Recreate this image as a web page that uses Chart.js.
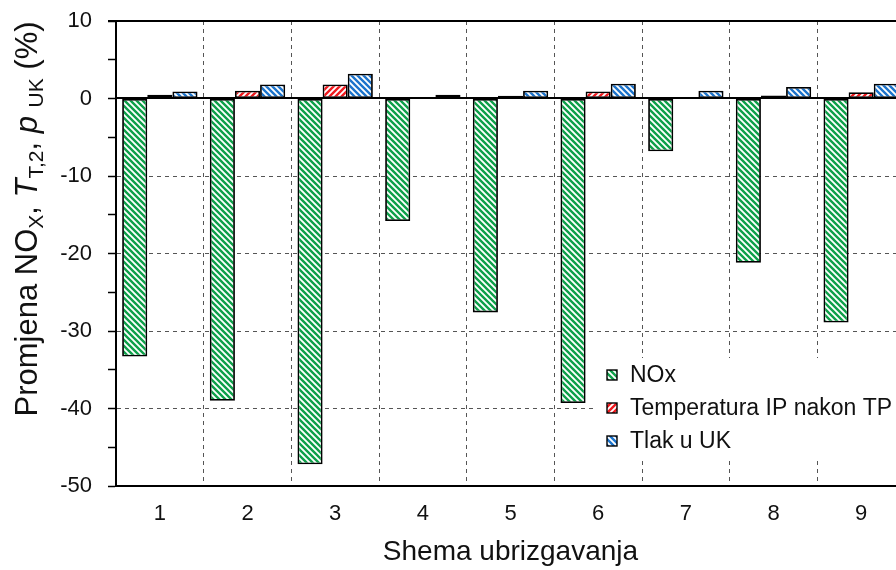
<!DOCTYPE html>
<html>
<head>
<meta charset="utf-8">
<script src="https://cdn.jsdelivr.net/npm/chart.js@4.4.1/dist/chart.umd.min.js"></script>
<style>
  html, body { margin: 0; padding: 0; overflow: hidden; background: #fff; }
  #wrap { position: relative; width: 920px; height: 570px; }
</style>
</head>
<body>
<div id="wrap"><canvas id="chart"></canvas></div>
<script>
// data
const categories = ['1', '2', '3', '4', '5', '6', '7', '8', '9'];
const noxValues = [-33.3, -39.0, -47.2, -15.8, -27.6, -39.3, -6.8, -21.2, -28.9];
const tempValues = [0.5, 1.0, 1.8, 0.1, 0.35, 0.9, 0.1, 0.4, 0.8];
const tlakValues = [0.9, 1.8, 3.2, 0.5, 1.0, 1.9, 1.0, 1.5, 1.9];
const seriesLabels = ['NOx', 'Temperatura IP nakon TP', 'Tlak u UK'];
const yMin = -50, yMax = 10;

const FONT = "'Liberation Sans', Arial, sans-serif";

// diagonal hatch fill, white background with coloured stripes
const makeHatch = (color, dir) => {
  const s = 6;
  const c = document.createElement('canvas');
  c.width = s; c.height = s;
  const g = c.getContext('2d');
  g.fillStyle = '#fff';
  g.fillRect(0, 0, s, s);
  g.strokeStyle = color;
  g.lineWidth = 2.4;
  g.beginPath();
  if (dir === '\\') {
    g.moveTo(-1, -1); g.lineTo(s + 1, s + 1);
    g.moveTo(-1, s - 1); g.lineTo(1, s + 1);
    g.moveTo(s - 1, -1); g.lineTo(s + 1, 1);
  } else {
    g.moveTo(-1, s + 1); g.lineTo(s + 1, -1);
    g.moveTo(-1, 1); g.lineTo(1, -1);
    g.moveTo(s - 1, s + 1); g.lineTo(s + 1, s - 1);
  }
  g.stroke();
  return document.getElementById('chart').getContext('2d').createPattern(c, 'repeat');
};

const greenHatch = makeHatch('#0ea04a', '\\');
const redHatch = makeHatch('#f01a1f', '/');
const blueHatch = makeHatch('#1c74cc', '\\');

// frame top line + solid zero line
const framePlugin = {
  id: 'frame',
  afterDatasetsDraw(chart) {
    const { ctx, chartArea: a, scales: { y } } = chart;
    ctx.save();
    ctx.strokeStyle = '#000';
    ctx.lineWidth = 2;
    ctx.beginPath();
    ctx.moveTo(a.left - 8, a.top);
    ctx.lineTo(a.right, a.top);
    const y0 = Math.round(y.getPixelForValue(0));
    ctx.moveTo(a.left, y0);
    ctx.lineTo(a.right, y0);
    ctx.stroke();
    ctx.restore();
  }
};

// legend box inside the plot with white background
const legendPlugin = {
  id: 'boxLegend',
  afterDraw(chart) {
    const { ctx } = chart;
    ctx.save();
    ctx.fillStyle = '#fff';
    ctx.fillRect(594, 358, 330, 100);
    chart.data.datasets.forEach((ds, i) => {
      const cy = 375 + i * 33;
      ctx.fillStyle = ds.backgroundColor;
      ctx.fillRect(607, cy - 5, 10, 10);
      ctx.strokeStyle = '#000';
      ctx.lineWidth = 1.4;
      ctx.strokeRect(607, cy - 5, 10, 10);
      ctx.fillStyle = '#111';
      ctx.font = '23px ' + FONT;
      ctx.textBaseline = 'middle';
      ctx.fillText(ds.label, 630, cy + 1);
    });
    ctx.restore();
  }
};

// rotated y-axis title with subscripts and italics
const yTitlePlugin = {
  id: 'yTitle',
  afterDraw(chart) {
    const { ctx } = chart;
    const parts = [
      ['Promjena NO', 'n'], ['X', 's'], [', ', 'n'],
      ['T', 'i'], ['T,2', 's'], [', ', 'n'],
      ['p', 'i'], [' ', 'n'], ['UK', 's'], [' (%)', 'n']
    ];
    const fontFor = (k) => k === 's' ? '21px ' + FONT : (k === 'i' ? 'italic 31px ' + FONT : '31px ' + FONT);
    ctx.save();
    let total = 0;
    parts.forEach(([t, k]) => { ctx.font = fontFor(k); total += ctx.measureText(t).width; });
    ctx.translate(37, 219);
    ctx.rotate(-Math.PI / 2);
    ctx.fillStyle = '#111';
    ctx.textBaseline = 'alphabetic';
    let x = -total / 2;
    parts.forEach(([t, k]) => {
      ctx.font = fontFor(k);
      ctx.fillText(t, x, k === 's' ? 6 : 0);
      x += ctx.measureText(t).width;
    });
    ctx.restore();
  }
};

const barCommon = {
  borderColor: '#000',
  borderWidth: 1.8,
  borderSkipped: false,
  categoryPercentage: 0.86,
  barPercentage: 1.0
};

new Chart(document.getElementById('chart'), {
  type: 'bar',
  data: {
    labels: categories,
    datasets: [
      { ...barCommon, label: seriesLabels[0], data: noxValues, backgroundColor: greenHatch },
      { ...barCommon, label: seriesLabels[1], data: tempValues, backgroundColor: redHatch },
      { ...barCommon, label: seriesLabels[2], data: tlakValues, backgroundColor: blueHatch }
    ]
  },
  options: {
    responsive: true,
    maintainAspectRatio: false,
    animation: false,
    layout: { padding: { top: 21, right: 15, left: 0, bottom: 0 } },
    plugins: {
      legend: { display: false },
      tooltip: { enabled: false }
    },
    scales: {
      x: {
        grid: {
          offset: true,
          drawTicks: false,
          color: '#555',
          lineWidth: 1
        },
        border: { display: true, color: '#000', width: 2, dash: [4, 4] },
        ticks: { color: '#111', font: { family: FONT, size: 22 }, padding: 15 },
        title: {
          display: true,
          text: 'Shema ubrizgavanja',
          color: '#111',
          font: { family: FONT, size: 28 },
          padding: { top: 2, bottom: 1 }
        },
        afterFit: (scale) => { scale.height = 84; }
      },
      y: {
        min: yMin,
        max: yMax,
        ticks: {
          stepSize: 5,
          color: '#111',
          padding: 16,
          font: { family: FONT, size: 22 },
          callback: (v) => (v % 10 === 0 ? v : '')
        },
        grid: {
          color: (c) => {
            const v = c.tick ? c.tick.value : null;
            if (v === null || v % 10 !== 0 || v === 0 || v === yMin || v === yMax) return 'rgba(0,0,0,0)';
            return '#555';
          },
          tickColor: '#000',
          tickLength: 8,
          tickWidth: 1.5,
          lineWidth: 1
        },
        border: { display: true, color: '#000', width: 2, dash: [4, 4] },
        afterFit: (scale) => {
          scale.width = 116;
          scale.paddingTop = 0;
          scale.paddingBottom = 0;
        }
      }
    }
  },
  plugins: [framePlugin, legendPlugin, yTitlePlugin]
});
</script>
</body>
</html>
